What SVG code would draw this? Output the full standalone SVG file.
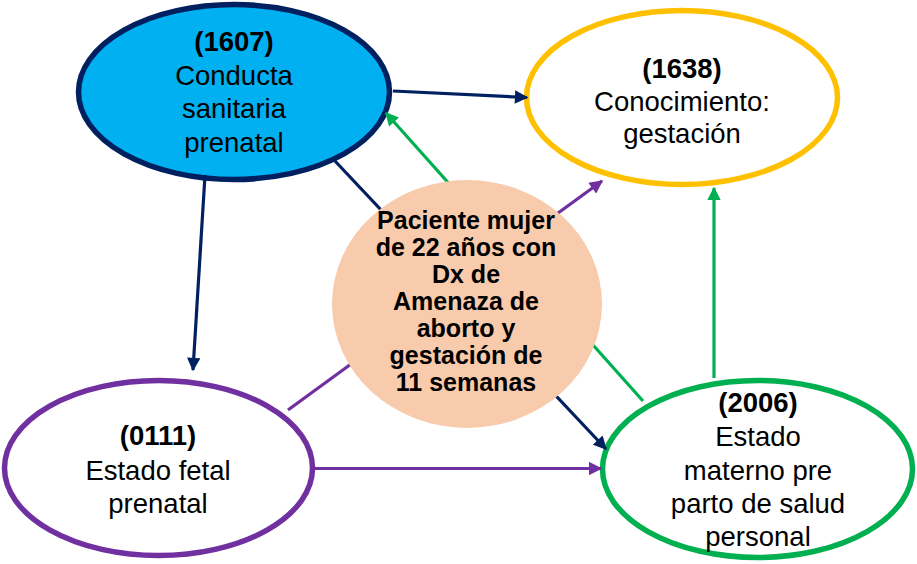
<svg xmlns="http://www.w3.org/2000/svg" width="917" height="564" viewBox="0 0 917 564">
<style>
.node{stroke-width:5.5}
.t{font-family:"Liberation Sans",Arial,sans-serif;font-size:27.5px;fill:#000;text-anchor:middle}
.b{font-weight:bold}
.c{font-family:"Liberation Sans",Arial,sans-serif;font-size:25px;font-weight:bold;fill:#000;text-anchor:middle}
.ln{stroke-width:3.2;fill:none}
</style>
<defs>
<marker id="aNavy" viewBox="0 0 10 10" refX="9" refY="5" markerWidth="4.4" markerHeight="4.2" orient="auto" markerUnits="strokeWidth"><path d="M0,0L10,5L0,10z" fill="#002060"/></marker>
<marker id="aGreen" viewBox="0 0 10 10" refX="9" refY="5" markerWidth="4.4" markerHeight="4.2" orient="auto" markerUnits="strokeWidth"><path d="M0,0L10,5L0,10z" fill="#00B050"/></marker>
<marker id="aPurple" viewBox="0 0 10 10" refX="9" refY="5" markerWidth="4.4" markerHeight="4.2" orient="auto" markerUnits="strokeWidth"><path d="M0,0L10,5L0,10z" fill="#7030A0"/></marker>
</defs>
<rect width="917" height="564" fill="#fff"/>
<g id="n1607">
<ellipse class="node" cx="234" cy="92" rx="155.5" ry="87.5" fill="#00B0F0" stroke="#002060"/>
<text class="t b" x="234" y="51">(1607)</text>
<text class="t" x="234" y="84.5">Conducta</text>
<text class="t" x="234" y="118">sanitaria</text>
<text class="t" x="234" y="152">prenatal</text>
</g>
<g id="n1638">
<ellipse class="node" cx="682" cy="97.5" rx="155.5" ry="87" fill="#fff" stroke="#FFC000"/>
<text class="t b" x="682" y="78">(1638)</text>
<text class="t" x="682" y="110.5">Conocimiento:</text>
<text class="t" x="682" y="143">gestación</text>
</g>
<g id="n0111">
<ellipse class="node" cx="158.5" cy="468" rx="154" ry="87.5" fill="#fff" stroke="#7030A0"/>
<text class="t b" x="158" y="445">(0111)</text>
<text class="t" x="158" y="479.5">Estado fetal</text>
<text class="t" x="158" y="513">prenatal</text>
</g>
<g id="n2006">
<ellipse class="node" cx="757.5" cy="469" rx="155" ry="88.5" fill="#fff" stroke="#00B050"/>
<text class="t b" x="758" y="412">(2006)</text>
<text class="t" x="758" y="446">Estado</text>
<text class="t" x="758" y="479.5">materno pre</text>
<text class="t" x="758" y="513">parto de salud</text>
<text class="t" x="758" y="545.5">personal</text>
</g>
<g id="connectors">
<line class="ln" x1="393" y1="91" x2="527" y2="97.5" stroke="#002060" marker-end="url(#aNavy)"/>
<line class="ln" x1="643" y1="401" x2="386" y2="113" stroke="#00B050" marker-end="url(#aGreen)"/>
<line class="ln" x1="335" y1="161" x2="606" y2="449" stroke="#002060" marker-end="url(#aNavy)"/>
<line class="ln" x1="288" y1="410" x2="602" y2="181" stroke="#7030A0" marker-end="url(#aPurple)"/>
<line class="ln" x1="205" y1="175" x2="193" y2="370" stroke="#002060" marker-end="url(#aNavy)"/>
<line class="ln" x1="315" y1="468.5" x2="601" y2="468.5" stroke="#7030A0" marker-end="url(#aPurple)"/>
<line class="ln" x1="714" y1="378" x2="714" y2="188" stroke="#00B050" marker-end="url(#aGreen)"/>
</g>
<g id="center">
<ellipse cx="467" cy="304" rx="135" ry="124" fill="#F8CBAD"/>
<text class="c" x="466" y="229">Paciente mujer</text>
<text class="c" x="466" y="256">de 22 años con</text>
<text class="c" x="466" y="283">Dx de</text>
<text class="c" x="466" y="310">Amenaza de</text>
<text class="c" x="466" y="337">aborto y</text>
<text class="c" x="466" y="364">gestación de</text>
<text class="c" x="466" y="391">11 semanas</text>
</g>
</svg>
